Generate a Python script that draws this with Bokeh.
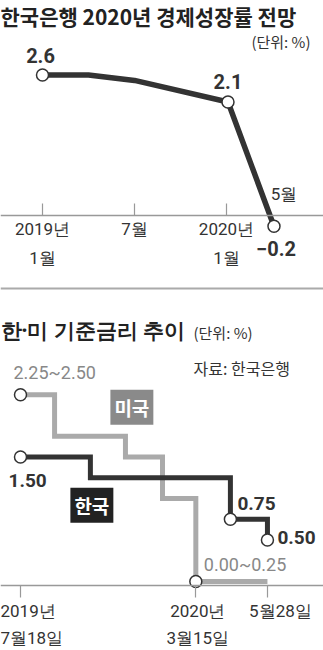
from bokeh.plotting import figure
from bokeh.models import LinearAxis, FixedTicker, Label, Span, ColumnDataSource, Range1d
from bokeh.layouts import column
from bokeh.embed import file_html
from bokeh.resources import INLINE
from bokeh.core.properties import value

KR = "Noto Sans CJK KR"
NUM = "Roboto"
DARK = "#333333"
GRAY = "#aaaaaa"
GRAY_TXT = "#888888"

# ---- top chart: BOK 2020 growth forecast (months from Jan 2019) ----
g_months = [0, 3, 6, 12.1, 15.1]
g_values = [2.6, 2.6, 2.5, 2.1, -0.2]
g_marked = [0, 3, 4]
g_marked_text = ["2.6", "2.1", "\u22120.2"]
g_ticks = [0, 6, 12]
g_tick_labels = ["2019년\n1월", "7월", "2020년\n1월"]

# ---- bottom chart: policy rates (timeline position 0..100) ----
us_x = [0, 13.8, 42.5, 57.5, 71, 100]
us_y = [2.25, 1.75, 1.50, 1.00, 0.00, 0.00]
kr_x = [0, 28.3, 85, 100]
kr_y = [1.50, 1.25, 0.75, 0.50]
r_ticks = [0, 71, 100]
r_tick_labels = ["2019년\n7월18일", "2020년\n3월15일", "5월28일"]

# ================= top figure =================
p1 = figure(width=323, height=290, x_range=Range1d(-2.74, 18.33), y_range=Range1d(-1.389, 3.98),
            min_border=0, toolbar_location=None, output_backend="svg",
            x_axis_type=None, y_axis_type=None, outline_line_color=None)
p1.grid.visible = False

ax1 = LinearAxis(fixed_location=0, ticker=FixedTicker(ticks=g_ticks),
                 major_label_overrides={t: l for t, l in zip(g_ticks, g_tick_labels)})
ax1.axis_line_color = "#999999"
ax1.axis_line_width = 1.5
ax1.major_tick_line_color = "#999999"
ax1.major_tick_line_width = 1.2
ax1.major_tick_in = 12
ax1.major_tick_out = 0
ax1.minor_tick_line_color = None
ax1.major_label_text_font = NUM
ax1.major_label_text_font_size = "17px"
ax1.major_label_text_color = DARK
ax1.major_label_text_line_height = 1.45
ax1.major_label_standoff = 4
p1.add_layout(ax1, "below")

p1.line(g_months, g_values, line_color=DARK, line_width=5.5, line_join="round", line_cap="round")
mx = [g_months[i] for i in g_marked]
my = [g_values[i] for i in g_marked]
p1.scatter(mx, my, size=12, fill_color="white", line_color=DARK, line_width=1.5)

src1 = ColumnDataSource(dict(x=mx, y=my, t=g_marked_text, xo=[-2, 0, 2], yo=[-20, -21, 22]))
p1.text(x="x", y="y", text="t", x_offset="xo", y_offset="yo", source=src1,
        text_font=value(NUM), text_font_style="bold", text_font_size="20px",
        text_color=DARK, text_align="center", text_baseline="middle")
p1.text(x=[g_months[4]], y=[g_values[4]], text=["5월"], x_offset=10, y_offset=-32,
        text_font=value(NUM), text_font_size="17px", text_color=DARK,
        text_align="center", text_baseline="middle")

p1.add_layout(Label(x=0, y=275, x_units="screen", y_units="screen", text="한국은행 2020년 경제성장률 전망",
                    text_font=KR, text_font_style="bold", text_font_size="21px", text_color="#222222",
                    text_baseline="middle"))
p1.add_layout(Label(x=310, y=249, x_units="screen", y_units="screen", text="(단위: %)",
                    text_font=KR, text_font_size="15px", text_color=DARK,
                    text_align="right", text_baseline="middle"))
p1.add_layout(Span(location=-1.352, dimension="width", line_color="#aaaaaa", line_width=2))

# ================= bottom figure =================
p2 = figure(width=323, height=360, x_range=Range1d(-8.1, 122.7), y_range=Range1d(-0.831, 3.506),
            min_border=0, toolbar_location=None, output_backend="svg",
            x_axis_type=None, y_axis_type=None, outline_line_color=None)
p2.grid.visible = False

ax2 = LinearAxis(fixed_location=-0.05, ticker=FixedTicker(ticks=r_ticks),
                 major_label_overrides={t: "" for t in r_ticks})
ax2.axis_line_color = "#999999"
ax2.axis_line_width = 1.5
ax2.major_tick_line_color = "#999999"
ax2.major_tick_line_width = 1.2
ax2.major_tick_in = 0
ax2.major_tick_out = 12
ax2.minor_tick_line_color = None
p2.add_layout(ax2, "below")

p2.step(us_x, us_y, mode="after", line_color=GRAY, line_width=5, line_join="miter", line_cap="butt")
p2.step(kr_x, kr_y, mode="after", line_color=DARK, line_width=5, line_join="miter", line_cap="butt")
p2.scatter([us_x[0], us_x[4]], [us_y[0], us_y[4]], size=12, fill_color="white", line_color=DARK, line_width=1.5)
p2.scatter(kr_x[0:1] + kr_x[2:], kr_y[0:1] + kr_y[2:], size=12, fill_color="white", line_color=DARK, line_width=1.5)

src_us = ColumnDataSource(dict(x=[us_x[0], us_x[4]], y=[us_y[0], us_y[4]],
                               t=["2.25~2.50", "0.00~0.25"], xo=[-7, 8], yo=[-22, -17]))
p2.text(x="x", y="y", text="t", x_offset="xo", y_offset="yo", source=src_us,
        text_font=value(NUM), text_font_size="18px", text_color=GRAY_TXT,
        text_align="left", text_baseline="middle")
src_kr = ColumnDataSource(dict(x=[kr_x[0], kr_x[2], kr_x[3]], y=[kr_y[0], kr_y[2], kr_y[3]],
                               t=["1.50", "0.75", "0.50"], xo=[-12, 7, 10], yo=[23, -16, -3]))
p2.text(x="x", y="y", text="t", x_offset="xo", y_offset="yo", source=src_kr,
        text_font=value(NUM), text_font_style="bold", text_font_size="19px", text_color=DARK,
        text_align="left", text_baseline="middle")

p2.text(x=r_ticks, y=[-0.05] * 3, text=r_tick_labels, x_offset=[-20, 2, 13], y_offset=[15, 15, 15],
        text_font=value(NUM), text_font_size="17px", text_color=DARK, text_line_height=1.35,
        text_align=["left", "center", "center"], text_baseline="top")

p2.add_layout(Label(x=45.1, y=2.10, text="미국", text_font=KR, text_font_style="bold", text_font_size="19px",
                    text_color="white", background_fill_color="#8a8a8a", text_align="center",
                    text_baseline="middle", padding=4))
p2.add_layout(Label(x=28.9, y=0.92, text="한국", text_font=KR, text_font_style="bold", text_font_size="19px",
                    text_color="white", background_fill_color="#222222", text_align="center",
                    text_baseline="middle", padding=4))

p2.add_layout(Label(x=0, y=321, x_units="screen", y_units="screen", text="한·미 기준금리 추이",
                    text_font="Noto Sans", text_font_style="bold", text_font_size="21px", text_color="#222222",
                    text_baseline="middle"))
p2.add_layout(Label(x=193, y=318, x_units="screen", y_units="screen", text="(단위: %)",
                    text_font=KR, text_font_size="15px", text_color=DARK, text_baseline="middle"))
p2.add_layout(Label(x=193, y=283, x_units="screen", y_units="screen", text="자료: 한국은행",
                    text_font=KR, text_font_size="16px", text_color=DARK, text_baseline="middle"))

layout = column(p1, p2, spacing=0)
open("out.html", "w").write(file_html(layout, INLINE))
